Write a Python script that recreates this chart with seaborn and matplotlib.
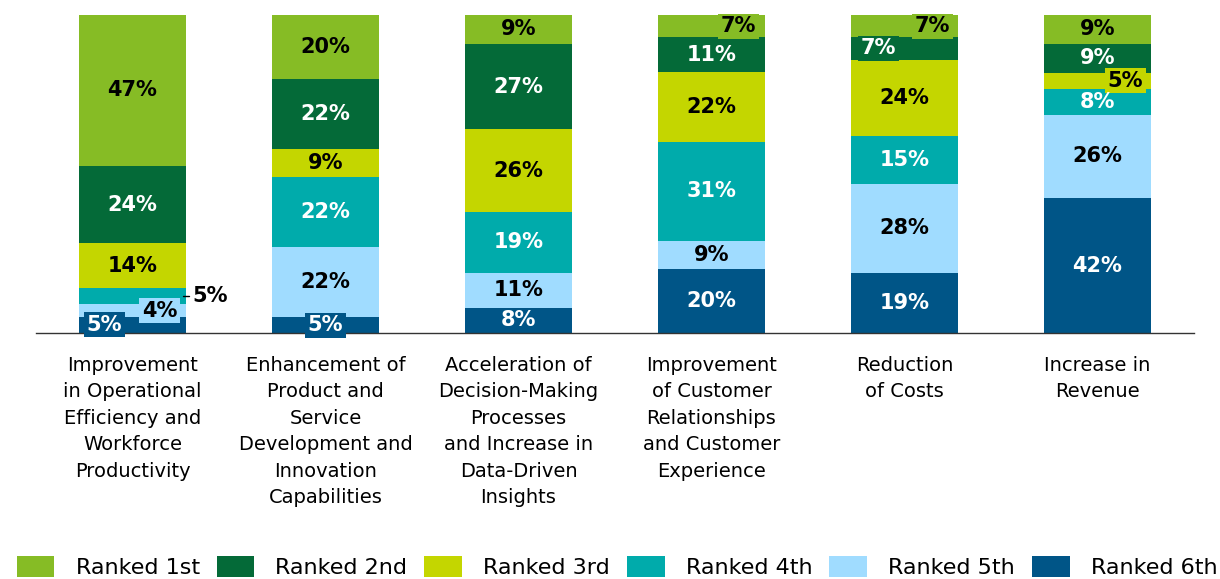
import numpy as np
import pandas as pd
import matplotlib.pyplot as plt
import seaborn as sns
from matplotlib.patches import Patch

categories = [
    'Improvement\nin Operational\nEfficiency and\nWorkforce\nProductivity',
    'Enhancement of\nProduct and\nService\nDevelopment and\nInnovation\nCapabilities',
    'Acceleration of\nDecision-Making\nProcesses\nand Increase in\nData-Driven\nInsights',
    'Improvement\nof Customer\nRelationships\nand Customer\nExperience',
    'Reduction\nof Costs',
    'Increase in\nRevenue',
]
ranks = ['Ranked 1st', 'Ranked 2nd', 'Ranked 3rd', 'Ranked 4th', 'Ranked 5th', 'Ranked 6th']
ranked_1st = [47, 20, 9, 7, 7, 9]
ranked_2nd = [24, 22, 27, 11, 7, 9]
ranked_3rd = [14, 9, 26, 22, 24, 5]
ranked_4th = [5, 22, 19, 31, 15, 8]
ranked_5th = [4, 22, 11, 9, 28, 26]
ranked_6th = [5, 5, 8, 20, 19, 42]

colors = ['#86BC25', '#046A38', '#C4D600', '#00ABAB', '#A0DCFF', '#005587']
text_colors = ['black', 'white', 'black', 'white', 'black', 'white']

sns.set_style('white')
plt.rcParams['font.family'] = ['DejaVu Sans']
plt.rcParams['text.color'] = 'black'
plt.rcParams['xtick.color'] = 'black'

df = pd.DataFrame({'category': categories}, index=range(len(categories)))
values = [ranked_1st, ranked_2nd, ranked_3rd, ranked_4th, ranked_5th, ranked_6th]
for r, v in zip(ranks, values):
    df[r] = v

# 100% stacked: share of each bar's total, cumulative from the bottom (6th) up
share = df[ranks].div(df[ranks].sum(axis=1), axis=0) * 100
cum = share[ranks[::-1]].cumsum(axis=1)[ranks]
lower = cum - share[ranks]

fig = plt.figure(figsize=(12.2, 5.79), dpi=100)
ax = fig.add_axes([36 / 1220, 246 / 579, 1158 / 1220, 318 / 579])

BAR_W = 0.55
for r, c in zip(ranks, colors):
    sns.barplot(x=df['category'], y=cum[r], color=c, saturation=1, width=BAR_W,
                errorbar=None, ax=ax, order=categories, linewidth=0)

# label nudges for small segments: (bar, rank) -> x offset
nudges = {(0, 5): -0.145, (0, 4): 0.14, (1, 5): 0.0, (3, 0): 0.14,
          (4, 1): -0.135, (4, 0): 0.145, (5, 2): 0.145}

for i in range(len(categories)):
    for j, r in enumerate(ranks):
        val = df.loc[i, r]
        ymid = (lower.loc[i, r] + cum.loc[i, r]) / 2
        label = f'{val}%'
        if (i, j) == (0, 3):
            x0 = i + BAR_W / 2
            ax.plot([x0 - 0.015, x0 + 0.02], [ymid, ymid], color='black', lw=1, clip_on=False)
            ax.text(x0 + 0.035, ymid, label, ha='left', va='center', fontsize=15,
                    fontweight='bold', color='black')
            continue
        kw = {}
        if (i, j) in nudges:
            kw['bbox'] = dict(boxstyle='square,pad=0.12', fc=colors[j], ec='none')
        ax.text(i + nudges.get((i, j), 0.0), ymid, label, ha='center', va='center',
                fontsize=15, fontweight='bold', color=text_colors[j], **kw)

ax.set_xlim(-0.5, 5.5)
ax.set_ylim(0, 100)
ax.set_ylabel('')
ax.set_xlabel('')
ax.set_yticks([])
sns.despine(ax=ax, left=True)
ax.spines['bottom'].set_color('#333333')
ax.spines['bottom'].set_linewidth(1.0)
ax.set_xticks(range(len(categories)))
ax.set_xticklabels(categories, fontsize=14, linespacing=1.5)
ax.set_xticks(np.arange(-0.5, 6, 1), minor=True)
ax.tick_params(axis='x', which='major', length=0, pad=16.5)
ax.tick_params(axis='x', which='minor', length=6, width=1, color='#333333', direction='out')

handles = [Patch(facecolor=c, edgecolor='none') for c in colors]
fig.legend(handles, ranks, loc='lower center', bbox_to_anchor=(0.5057, 0.0), ncol=6,
           frameon=False, fontsize=16, handlelength=1.7, handleheight=1.1,
           handletextpad=0.95, columnspacing=0.76, borderaxespad=0.0, borderpad=0.05)

fig.savefig('out.png', dpi=100)
